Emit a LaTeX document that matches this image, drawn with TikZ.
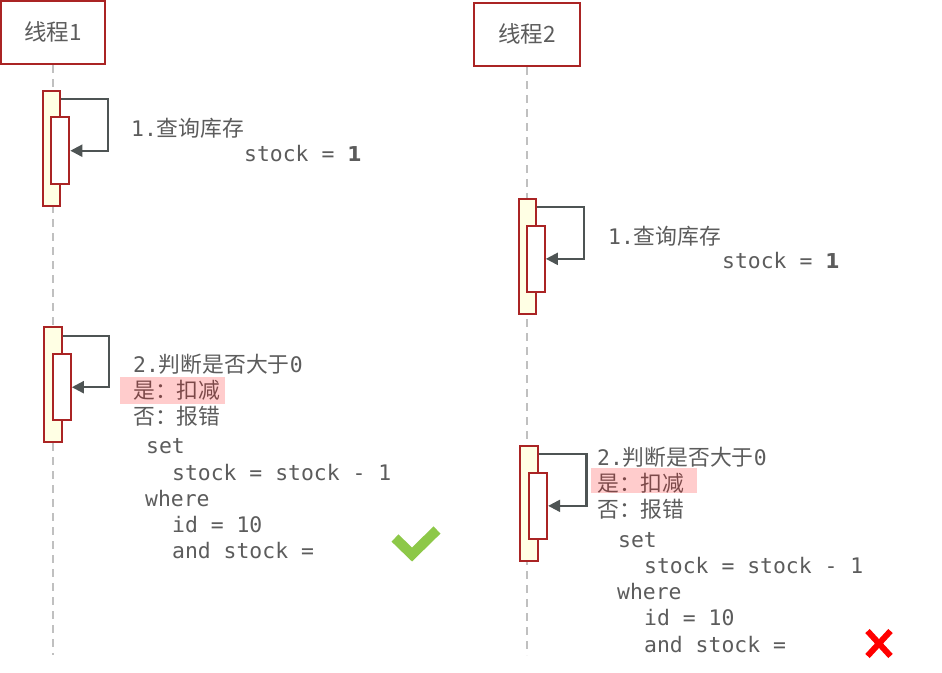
\documentclass[tikz,border=0pt]{standalone}
\usepackage{fontspec}
\setmainfont{DejaVu Sans}
\setsansfont{DejaVu Sans}
\setmonofont{DejaVu Sans Mono}
\newfontfamily\cjk{Noto Sans CJK SC}
\usetikzlibrary{calc,arrows.meta}
\definecolor{boxred}{RGB}{170,36,36}
\definecolor{actfill}{RGB}{255,255,228}
\definecolor{arrgray}{RGB}{78,84,84}
\definecolor{txtgray}{RGB}{92,92,92}
\definecolor{lifegray}{RGB}{192,192,192}
\definecolor{okgreen}{RGB}{141,200,72}
\tikzset{
  hdr/.style={draw=boxred, line width=2pt, fill=white, text=txtgray, inner sep=0pt,
    font=\cjk\fontsize{22.5}{27}\selectfont},
  life/.style={draw=lifegray, line width=1.6pt, dash pattern=on 8pt off 6pt},
  actout/.style={draw=boxred, line width=2pt, fill=actfill, minimum width=17.5pt, minimum height=115pt, inner sep=0pt},
  actin/.style={draw=boxred, line width=2pt, fill=white, minimum width=18pt, minimum height=66.5pt, inner sep=0pt},
  selfarr/.style={draw=arrgray, line width=2.2pt, -{Triangle[length=12pt,width=12pt]}},
  code/.style={anchor=base west, inner sep=0pt, text=txtgray, font=\ttfamily\fontsize{21.4}{26}\selectfont},
  cn/.style={anchor=base west, inner sep=0pt, text=txtgray, font=\fontsize{21.8}{26}\selectfont},
}
\newcommand{\zh}[1]{{\cjk #1}}
\newcommand{\mo}[1]{{\ttfamily\fontsize{21.4}{26}\selectfont #1}}
\begin{document}
\begin{tikzpicture}[x=1pt,y=-1pt]
\useasboundingbox (0,0) rectangle (942,672);
\fill[white] (0,0) rectangle (942,672);

% headers
\node[hdr, minimum width=104.3pt, minimum height=63.3pt] (t1) at (52.85,32.35) {线程1};
\node[hdr, minimum width=105.7pt, minimum height=63.3pt] (t2) at (527.15,34.35) {线程2};

% lifelines
\coordinate (e1) at (52.85,655);
\coordinate (e2) at (527.15,655);
\draw[life] (t1.south) -- (e1);
\draw[life] (t2.south) -- (e2);

% activations thread 1
\node[actout] (a1o) at (51.35,148.2) {};
\node[actin] (a1i) at (60.35,150.7) {};
\node[actout] (b1o) at (52.85,384.85) {};
\node[actin] (b1i) at (61.85,387.2) {};
% activations thread 2
\node[actout] (a2o) at (527.5,256.35) {};
\node[actin] (a2i) at (535.85,258.85) {};
\node[actout] (b2o) at (529,503.2) {};
\node[actin] (b2i) at (538.15,505.85) {};

% self arrows
\draw[selfarr] ([yshift=-9.3pt]a1o.north east) -| ($(a1i.east)+(37.7,0)$) -- (a1i.east);
\draw[selfarr] ([yshift=-10pt]b1o.north east) -| ($(b1i.east)+(37.3,0)$) -- (b1i.east);
\draw[selfarr] ([yshift=-9pt]a2o.north east) -| ($(a2i.east)+(38.3,0)$) -- (a2i.east);
\draw[selfarr] ([yshift=-9pt]b2o.north east) -| ($(b2i.east)+(38.4,0)$) -- (b2i.east);

% thread 1 texts
\node[cn] (q1) at (131,136) {\mo{1.}\zh{查询库存}};
\node[code] (s1) at (244,161) {stock = {\sffamily\bfseries\fontsize{20.5}{24}\selectfont 1}};

\node[cn] (j1) at (133,372) {\mo{2.}\zh{判断是否大于}\mo{0}};
\node[cn] (y1) at (133,398) {\zh{是：扣减}};
\node[cn] (n1) at (133,424) {\zh{否：报错}};
\fill[red, opacity=0.2] (120,377) rectangle (225,404);
\node[code] (c1a) at (146,453) {set};
\node[code] (c1b) at (172,480) {stock = stock - 1};
\node[code] (c1c) at (145,506) {where};
\node[code] (c1d) at (172,532) {id = 10};
\node[code] (c1e) at (172,558) {and stock =};

% thread 2 texts
\node[cn] (q2) at (608,244) {\mo{1.}\zh{查询库存}};
\node[code] (s2) at (722,268) {stock = {\sffamily\bfseries\fontsize{20.5}{24}\selectfont 1}};

\node[cn] (j2) at (597,465) {\mo{2.}\zh{判断是否大于}\mo{0}};
\node[cn] (y2) at (597,491) {\zh{是：扣减}};
\node[cn] (n2) at (597,517) {\zh{否：报错}};
\fill[red, opacity=0.2] (591,468) rectangle (697,493);
\node[code] (c2a) at (618,547) {set};
\node[code] (c2b) at (644,573) {stock = stock - 1};
\node[code] (c2c) at (617,599) {where};
\node[code] (c2d) at (644,625) {id = 10};
\node[code] (c2e) at (644,652) {and stock =};

% check mark
\draw[okgreen, line width=10pt, line join=miter] (395,538) -- (412,554.5) -- (437,530);
% cross
\draw[red, line width=6pt] (867.5,631) -- (890.5,656) (890.5,631) -- (867.5,656);
\end{tikzpicture}
\end{document}
